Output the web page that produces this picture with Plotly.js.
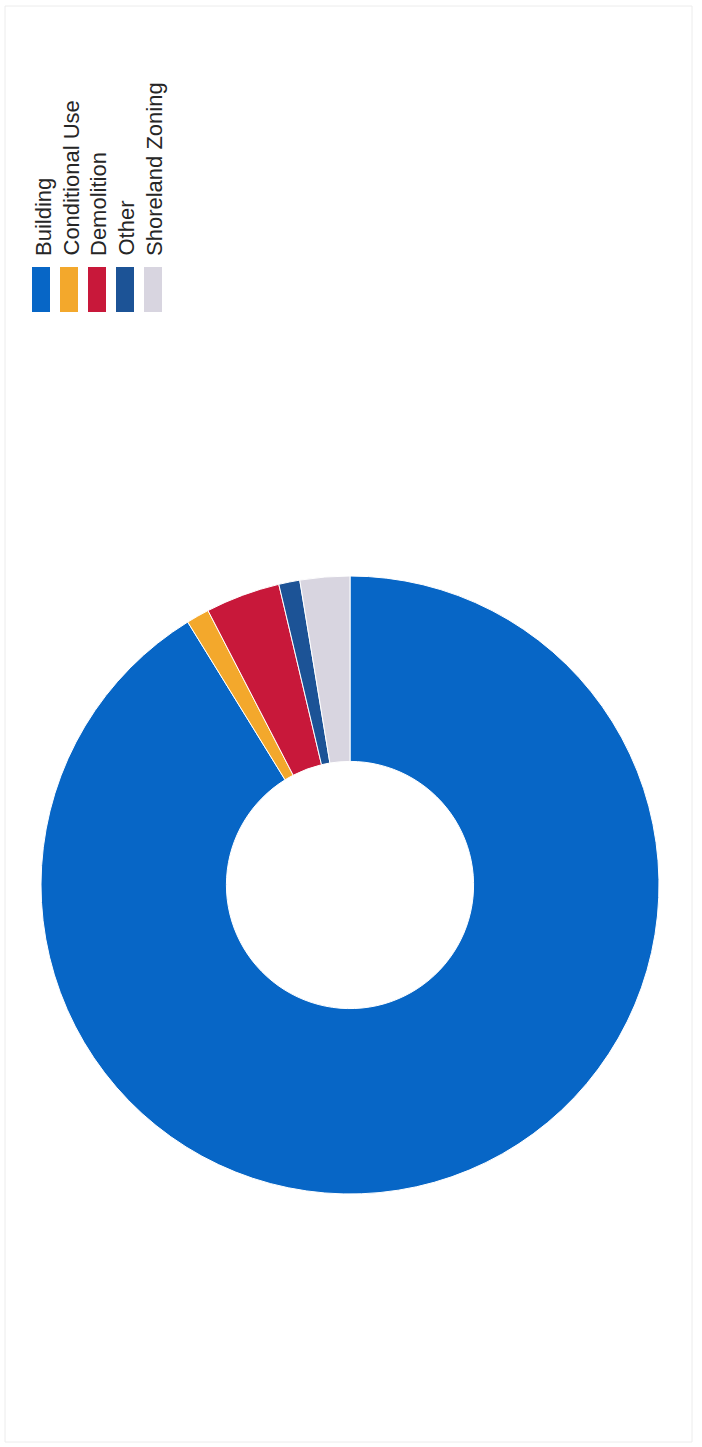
<!DOCTYPE html>
<html>
<head>
<meta charset="utf-8">
<script src="https://cdn.plot.ly/plotly-3.0.1.min.js"></script>
<style>html,body{margin:0;padding:0;background:#fff;}#chart{width:702px;height:1447px;}</style>
</head>
<body>
<div id="chart"></div>
<script>
// Data
var categories = ["Building", "Conditional Use", "Demolition", "Other", "Shoreland Zoning"];
var values = [91.2, 1.2, 3.9, 1.1, 2.6];
var colors = ["#0766c6", "#f3a82c", "#c8183a", "#1c5396", "#d8d5e0"];

var W = 702, H = 1447;
function px(x) { return x / W; }
function py(y) { return 1 - y / H; }

// Donut geometry (pixels)
var cx = 350, cy = 885, R = 309;

var trace = {
  type: "pie",
  labels: categories,
  values: values,
  hole: 0.4,
  sort: false,
  direction: "clockwise",
  rotation: 0,
  textinfo: "none",
  hoverinfo: "label+value",
  showlegend: false,
  marker: { colors: colors, line: { color: "#ffffff", width: 1 } },
  domain: { x: [px(cx - R), px(cx + R)], y: [py(cy + R), py(cy - R)] }
};

// Rotated legend (text reads bottom-to-top)
var legendTextX = [43, 71, 98, 126, 154];
var legendBoxX = [32, 60, 88, 116, 144];
var boxW = 18, boxTop = 267, boxBottom = 312, textBottom = 258;

var annotations = [], shapes = [];
for (var i = 0; i < categories.length; i++) {
  shapes.push({
    type: "rect", xref: "paper", yref: "paper",
    x0: px(legendBoxX[i]), x1: px(legendBoxX[i] + boxW),
    y0: py(boxBottom), y1: py(boxTop),
    fillcolor: colors[i], line: { width: 0 }
  });
  annotations.push({
    xref: "paper", yref: "paper",
    x: px(legendTextX[i]), y: py(textBottom),
    xanchor: "center", yanchor: "bottom",
    text: categories[i], textangle: -90, showarrow: false,
    font: { family: "Liberation Sans, Arial, sans-serif", size: 22, color: "#262626" }
  });
}
// faint scan frame
shapes.push({
  type: "rect", xref: "paper", yref: "paper",
  x0: px(5), x1: px(692), y0: py(1442), y1: py(6),
  line: { color: "#ececec", width: 1 }, fillcolor: "rgba(0,0,0,0)"
});

var layout = {
  width: W, height: H,
  margin: { l: 0, r: 0, t: 0, b: 0, pad: 0 },
  paper_bgcolor: "#ffffff",
  plot_bgcolor: "#ffffff",
  showlegend: false,
  annotations: annotations,
  shapes: shapes
};

Plotly.newPlot("chart", [trace], layout, { displayModeBar: false, staticPlot: true });
</script>
</body>
</html>
